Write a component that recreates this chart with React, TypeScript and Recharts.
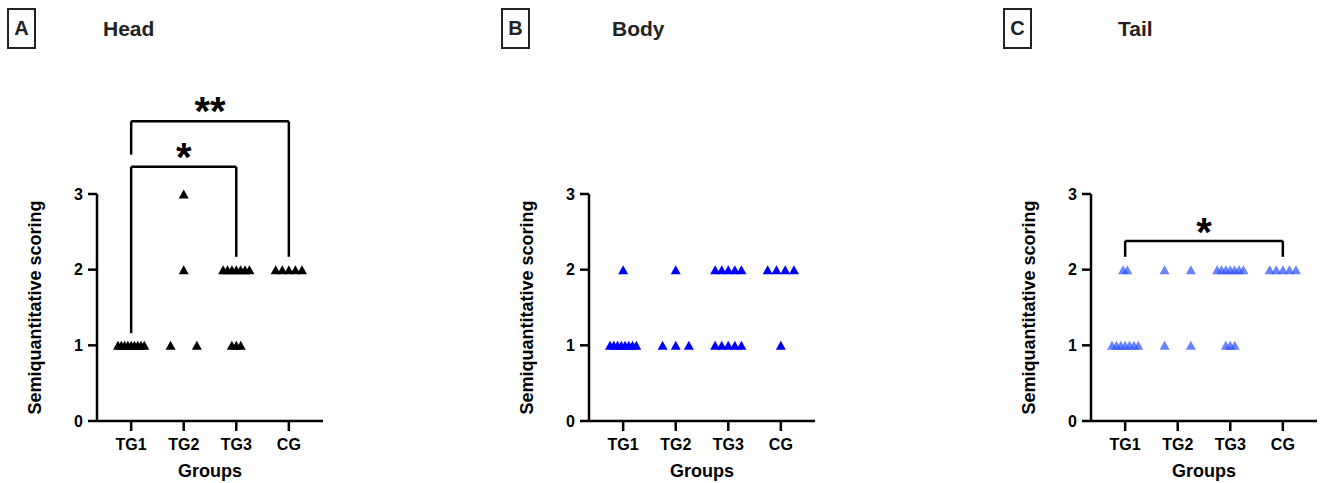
import React from 'react';
import { ScatterChart, Scatter, XAxis, YAxis, ReferenceLine, ReferenceDot } from 'recharts';

const groups = ['TG1', 'TG2', 'TG3', 'CG'];
const xTicks = [1, 2, 3, 4];
const yTicks = [0, 1, 2, 3];

// scores per animal, one array per group
const headTG1 = [1, 1, 1, 1, 1, 1, 1, 1, 1];
const headTG2 = [3, 2, 1, 1];
const headTG3 = [2, 2, 2, 2, 2, 2, 2, 1, 1, 1];
const headCG = [2, 2, 2, 2, 2];

const bodyTG1 = [2, 1, 1, 1, 1, 1, 1, 1, 1];
const bodyTG2 = [2, 1, 1, 1];
const bodyTG3 = [2, 2, 2, 2, 2, 1, 1, 1, 1, 1];
const bodyCG = [2, 2, 2, 2, 1];

const tailTG1 = [2, 2, 1, 1, 1, 1, 1, 1, 1];
const tailTG2 = [2, 2, 1, 1];
const tailTG3 = [2, 2, 2, 2, 2, 2, 2, 1, 1, 1];
const tailCG = [2, 2, 2, 2, 2];

type Bracket = {
  from: number;
  to: number;
  top: number;
  leftEnd: number;
  rightEnd: number;
  mark: string;
  markY: number;
};

const headBrackets: Bracket[] = [
  { from: 1, to: 3, top: 3.36, leftEnd: 1.16, rightEnd: 2.17, mark: '*', markY: 3.49 },
  { from: 1, to: 4, top: 3.96, leftEnd: 3.52, rightEnd: 2.17, mark: '**', markY: 4.1 },
];
const tailBrackets: Bracket[] = [
  { from: 1, to: 4, top: 2.38, leftEnd: 2.17, rightEnd: 2.17, mark: '*', markY: 2.5 },
];

const FONT = '"Liberation Sans", Arial, Helvetica, sans-serif';

// spread points sharing a score side by side (like Prism's column scatter)
function spread(scores: number[][], tight: Record<string, number> = {}) {
  const pts: { x: number; y: number }[] = [];
  scores.forEach((list, gi) => {
    const counts = new Map<number, number>();
    list.forEach((v) => counts.set(v, (counts.get(v) || 0) + 1));
    counts.forEach((n, v) => {
      const width = tight[`${groups[gi]}:${v}`] ?? 0.5;
      for (let i = 0; i < n; i++) {
        const off = n > 1 ? (i / (n - 1) - 0.5) * width : 0;
        pts.push({ x: gi + 1 + off, y: v });
      }
    });
  });
  return pts;
}

const headPoints = spread([headTG1, headTG2, headTG3, headCG], { 'TG3:1': 0.17 });
const bodyPoints = spread([bodyTG1, bodyTG2, bodyTG3, bodyCG]);
const tailPoints = spread([tailTG1, tailTG2, tailTG3, tailCG], { 'TG1:2': 0.08, 'TG3:1': 0.17 });

const triangle = (color: string, opacity: number) => (props: any) => {
  const { cx, cy } = props;
  return (
    <polygon
      points={`${cx - 5},${cy + 4.5} ${cx},${cy - 4.5} ${cx + 5},${cy + 4.5}`}
      fill={color}
      fillOpacity={opacity}
    />
  );
};

const axisStroke = { stroke: '#000', strokeWidth: 2.5 };
const tickFont = { fill: '#000', fontSize: 16, fontWeight: 700, fontFamily: FONT };
const labelFont = { fill: '#000', fontSize: 18, fontWeight: 700, fontFamily: FONT };

interface PanelProps {
  left: number;
  points: { x: number; y: number }[];
  color: string;
  opacity?: number;
  brackets?: Bracket[];
}

function Panel({ left, points, color, opacity = 1, brackets = [] }: PanelProps) {
  return (
    <div style={{ position: 'absolute', left, top: 0 }}>
      <ScatterChart width={326} height={483} margin={{ top: 194, right: 3, bottom: 0, left: 0 }}>
        <XAxis
          type="number"
          dataKey="x"
          domain={[0.35, 4.65]}
          ticks={xTicks}
          tickFormatter={(v) => groups[v - 1]}
          tick={tickFont}
          axisLine={axisStroke}
          tickLine={axisStroke}
          tickSize={10}
          tickMargin={8}
          height={62}
          label={{ value: 'Groups', position: 'insideBottom', offset: 6, style: labelFont }}
        />
        <YAxis
          type="number"
          dataKey="y"
          domain={[0, 3]}
          ticks={yTicks}
          tick={tickFont}
          axisLine={axisStroke}
          tickLine={axisStroke}
          tickSize={9}
          tickMargin={5}
          width={97}
          label={{
            value: 'Semiquantitative scoring',
            angle: -90,
            position: 'insideLeft',
            offset: 35,
            style: { ...labelFont, textAnchor: 'middle' },
          }}
        />
        <Scatter data={points} shape={triangle(color, opacity)} isAnimationActive={false} />
        {brackets.map((b, i) => (
          <React.Fragment key={i}>
            <ReferenceLine
              segment={[{ x: b.from, y: b.top }, { x: b.to, y: b.top }]}
              stroke="#000"
              strokeWidth={2.5}
              ifOverflow="visible"
            />
            <ReferenceLine
              segment={[{ x: b.from, y: b.leftEnd }, { x: b.from, y: b.top }]}
              stroke="#000"
              strokeWidth={2.5}
              ifOverflow="visible"
            />
            <ReferenceLine
              segment={[{ x: b.to, y: b.rightEnd }, { x: b.to, y: b.top }]}
              stroke="#000"
              strokeWidth={2.5}
              ifOverflow="visible"
            />
            <ReferenceDot
              x={(b.from + b.to) / 2}
              y={b.markY}
              r={0}
              fill="none"
              stroke="none"
              ifOverflow="visible"
              label={{ value: b.mark, position: 'center', style: { ...labelFont, fontSize: 40 } }}
            />
          </React.Fragment>
        ))}
      </ScatterChart>
    </div>
  );
}

function Title({ letter, boxLeft, title, titleLeft }: { letter: string; boxLeft: number; title: string; titleLeft: number }) {
  return (
    <>
      <div
        style={{
          position: 'absolute',
          left: boxLeft,
          top: 8,
          width: 25,
          height: 37,
          border: '2px solid #222',
          textAlign: 'center',
          lineHeight: '37px',
          fontFamily: FONT,
          fontWeight: 700,
          fontSize: 20,
          color: '#222',
        }}
      >
        {letter}
      </div>
      <div
        style={{
          position: 'absolute',
          left: titleLeft,
          top: 18,
          lineHeight: '21px',
          fontFamily: FONT,
          fontWeight: 700,
          fontSize: 21,
          color: '#222',
        }}
      >
        {title}
      </div>
    </>
  );
}

export default function App() {
  return (
    <div
      style={{
        position: 'absolute',
        left: 0,
        top: 0,
        width: 1320,
        height: 483,
        overflow: 'hidden',
        background: '#fff',
      }}
    >
      <Title letter="A" boxLeft={7} title="Head" titleLeft={103} />
      <Title letter="B" boxLeft={501} title="Body" titleLeft={612} />
      <Title letter="C" boxLeft={1003} title="Tail" titleLeft={1118} />
      <Panel left={0} points={headPoints} color="#000" brackets={headBrackets} />
      <Panel left={492} points={bodyPoints} color="#0000ff" />
      <Panel left={994} points={tailPoints} color="#2a50ff" opacity={0.7} brackets={tailBrackets} />
    </div>
  );
}
